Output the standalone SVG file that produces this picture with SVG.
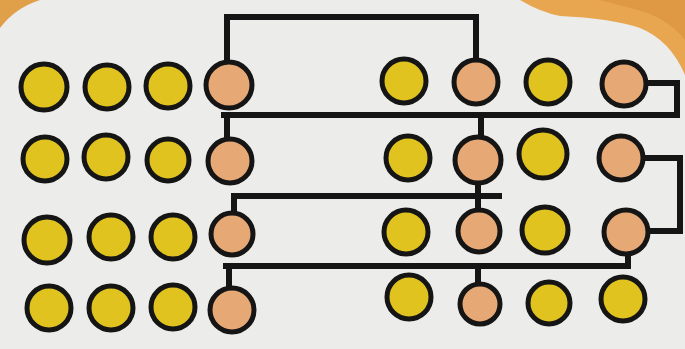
<svg xmlns="http://www.w3.org/2000/svg" width="685" height="349" viewBox="0 0 685 349">
<style>
.y{fill:#e0c31e;stroke:#151515;stroke-width:5}
.o{fill:#e6a875;stroke:#151515;stroke-width:5}
.c{fill:none;stroke:#151515;stroke-width:6;stroke-linejoin:miter;stroke-linecap:square}
</style>
<rect width="685" height="349" fill="#ececea"/>
<path d="M0 0 H40 Q15 8 0 28 Z" fill="#e0a04a"/>
<path d="M520 0 H685 V75 Q670 40 640 28 Q610 18 560 16 Q540 12 520 0 Z" fill="#e8a650"/>
<path d="M600 0 H685 V40 Q665 15 630 8 Z" fill="#d98f3a" opacity="0.6"/>
<g id="connectors">
<path class="c" d="M227 62 V17 H476 V62"/>
<path class="c" d="M224 115 H677 V83 H646"/>
<path class="c" d="M227 115 V136"/>
<path class="c" d="M481 115 V136"/>
<path class="c" d="M499 196 H234 V214"/>
<path class="c" d="M478 181 V214"/>
<path class="c" d="M644 158 H680 V231 H648"/>
<path class="c" d="M226 266 H628 V258"/>
<path class="c" d="M229 266 V286"/>
<path class="c" d="M478 266 V286"/>
</g>
<g id="r1">
<circle id="n1_1" class="y" cx="44" cy="87" r="23"/>
<circle id="n1_2" class="y" cx="107" cy="87" r="22"/>
<circle id="n1_3" class="y" cx="168" cy="86" r="22"/>
<circle id="n1_4" class="o" cx="229" cy="85" r="23"/>
<circle id="n1_5" class="y" cx="404" cy="81" r="22"/>
<circle id="n1_6" class="o" cx="476" cy="82" r="22"/>
<circle id="n1_7" class="y" cx="548" cy="82" r="22"/>
<circle id="n1_8" class="o" cx="624" cy="84" r="22"/>
</g>
<g id="r2">
<circle id="n2_1" class="y" cx="45" cy="159" r="22"/>
<circle id="n2_2" class="y" cx="106" cy="157" r="22"/>
<circle id="n2_3" class="y" cx="168" cy="160" r="21"/>
<circle id="n2_4" class="o" cx="230" cy="161" r="22"/>
<circle id="n2_5" class="y" cx="408" cy="158" r="22"/>
<circle id="n2_6" class="o" cx="478" cy="160" r="23"/>
<circle id="n2_7" class="y" cx="543" cy="154" r="24"/>
<circle id="n2_8" class="o" cx="621" cy="158" r="22"/>
</g>
<g id="r3">
<circle id="n3_1" class="y" cx="47" cy="240" r="23"/>
<circle id="n3_2" class="y" cx="111" cy="237" r="22"/>
<circle id="n3_3" class="y" cx="173" cy="237" r="22"/>
<circle id="n3_4" class="o" cx="232" cy="234" r="21"/>
<circle id="n3_5" class="y" cx="406" cy="232" r="22"/>
<circle id="n3_6" class="o" cx="479" cy="231" r="21"/>
<circle id="n3_7" class="y" cx="545" cy="230" r="23"/>
<circle id="n3_8" class="o" cx="626" cy="232" r="22"/>
</g>
<g id="r4">
<circle id="n4_1" class="y" cx="49" cy="308" r="22"/>
<circle id="n4_2" class="y" cx="111" cy="308" r="22"/>
<circle id="n4_3" class="y" cx="173" cy="307" r="22"/>
<circle id="n4_4" class="o" cx="232" cy="310" r="22"/>
<circle id="n4_5" class="y" cx="409" cy="297" r="22"/>
<circle id="n4_6" class="o" cx="480" cy="304" r="20"/>
<circle id="n4_7" class="y" cx="549" cy="303" r="21"/>
<circle id="n4_8" class="y" cx="623" cy="299" r="22"/>
</g>
</svg>
